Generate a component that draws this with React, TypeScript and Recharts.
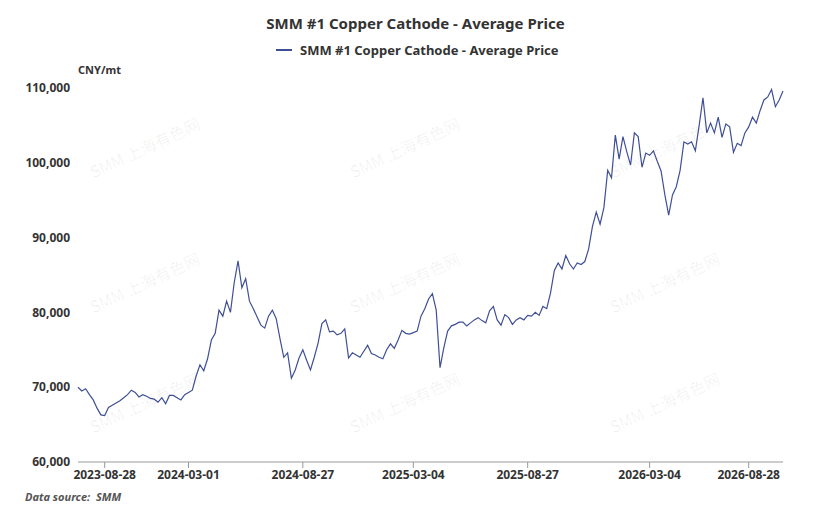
import React from "react";
import { Line, LineChart, XAxis, YAxis } from "recharts";

// values in thousand CNY/mt, grouped by the stretch between two x-axis labels
const lead = [70.0, 69.5, 69.8, 69.0, 68.3, 67.2, 66.3];
const seg1 = [66.2, 67.3, 67.6, 67.9, 68.2, 68.6, 69.0, 69.6, 69.3, 68.7, 69.0, 68.8, 68.5, 68.4, 68.0, 68.6, 67.8, 68.9, 68.9, 68.6, 68.3, 69.0];
const seg2 = [69.3, 69.6, 71.5, 73.0, 72.2, 73.8, 76.3, 77.2, 80.3, 79.5, 81.5, 80.0, 84.0, 86.9, 83.3, 84.5, 81.5, 80.5, 79.4, 78.3, 77.9, 79.5, 80.3, 79.2, 76.5, 74.0, 74.6, 71.2, 72.3, 73.9];
const seg3 = [75.0, 73.6, 72.3, 74.0, 75.9, 78.5, 79.0, 77.4, 77.5, 77.0, 77.2, 77.8, 73.9, 74.6, 74.3, 74.0, 74.8, 75.6, 74.5, 74.3, 74.0, 73.8, 75.0, 75.8, 75.2, 76.3, 77.6, 77.2, 77.1];
const seg4 = [77.3, 77.5, 79.5, 80.5, 81.8, 82.5, 80.3, 72.6, 75.3, 77.5, 78.2, 78.4, 78.7, 78.7, 78.2, 78.6, 79.0, 79.3, 78.9, 78.6, 80.2, 80.8, 79.0, 78.3, 79.7, 79.3, 78.4, 79.0, 79.3, 79.0];
const seg5 = [79.6, 79.5, 80.0, 79.6, 80.8, 80.5, 82.6, 85.6, 86.6, 85.8, 87.6, 86.5, 85.8, 86.6, 86.4, 86.8, 88.5, 91.5, 93.4, 91.8, 94.0, 99.0, 98.0, 103.7, 100.5, 103.5, 101.5, 99.7, 104.0, 103.5, 99.4, 101.3];
const seg6 = [101.0, 101.6, 100.2, 98.9, 95.7, 93.0, 95.7, 96.8, 99.0, 102.8, 102.5, 102.8, 101.6, 105.0, 108.7, 104.0, 105.3, 104.0, 106.1, 103.4, 105.2, 104.8, 101.4, 102.6, 102.3, 104.0];
const seg7 = [104.8, 106.1, 105.3, 107.0, 108.4, 108.8, 109.8, 107.5, 108.4, 109.6];

const tickLabels = ["2023-08-28", "2024-03-01", "2024-08-27", "2025-03-04", "2025-08-27", "2026-03-04", "2026-08-28"];
const yTicks = [60000, 70000, 80000, 90000, 100000, 110000];

const segments = [seg1, seg2, seg3, seg4, seg5, seg6, seg7];
const tickIdx: number[] = [];
let acc = lead.length;
segments.forEach((s) => {
  tickIdx.push(acc);
  acc += s.length;
});
const data = [lead, ...segments].flat().map((v, i) => ({ i, price: v * 1000 }));
const labelOf = (i: number) => tickLabels[tickIdx.indexOf(i)] ?? "";

const FONT = "'Noto Sans', sans-serif";
const LINE = "#3f4f96";

const marks = [
  [85, 135], [345, 135], [605, 135], [85, 270], [345, 270], [605, 270], [85, 390], [345, 390], [605, 390],
];

export default function App() {
  return (
    <div style={{ position: "fixed", left: 0, top: 0, width: 831, height: 522, background: "#fff", fontFamily: FONT }}>
      <div style={{ position: "absolute", top: 13, width: 831, textAlign: "center", fontSize: 15, fontWeight: 700, color: "#333" }}>
        SMM #1 Copper Cathode - Average Price
      </div>
      <div style={{ position: "absolute", top: 41, left: 276, fontSize: 13, fontWeight: 700, color: "#333", display: "flex", alignItems: "center" }}>
        <span style={{ display: "inline-block", width: 16, height: 2, background: LINE, marginRight: 8 }} />
        SMM #1 Copper Cathode - Average Price
      </div>
      <div style={{ position: "absolute", top: 62, left: 78, fontSize: 11, fontWeight: 700, color: "#333" }}>CNY/mt</div>
      {marks.map(([x, y], k) => (
        <div
          key={k}
          style={{ position: "absolute", left: x, top: y, fontSize: 16, color: "rgba(0,0,0,0.06)", transform: "rotate(-25deg)", whiteSpace: "nowrap", fontFamily: "'Noto Sans CJK SC', sans-serif" }}
        >
          SMM 上海有色网
        </div>
      ))}
      <div style={{ position: "absolute", top: 489, left: 25, fontSize: 11, fontStyle: "italic", fontWeight: 700, color: "#555" }}>
        Data source:&nbsp; SMM
      </div>
      <div style={{ position: "absolute", left: 0, top: 0 }}>
        <LineChart width={831} height={522} data={data} margin={{ top: 88, right: 48, bottom: 30, left: 8 }}>
          <XAxis
            dataKey="i"
            type="number"
            domain={[0, data.length - 1]}
            ticks={tickIdx}
            tickFormatter={labelOf}
            interval={0}
            height={30}
            axisLine={{ stroke: "#999" }}
            tickLine={{ stroke: "#999" }}
            tick={{ fill: "#333", fontSize: 12, fontWeight: 700, fontFamily: FONT }}
          />
          <YAxis
            domain={[60000, 110000]}
            ticks={yTicks}
            width={70}
            axisLine={false}
            tickLine={false}
            tickFormatter={(v: number) => v.toLocaleString("en-US")}
            tick={{ fill: "#333", fontSize: 12, fontWeight: 700, fontFamily: FONT }}
          />
          <Line dataKey="price" stroke={LINE} strokeWidth={1.2} dot={false} isAnimationActive={false} />
        </LineChart>
      </div>
    </div>
  );
}
